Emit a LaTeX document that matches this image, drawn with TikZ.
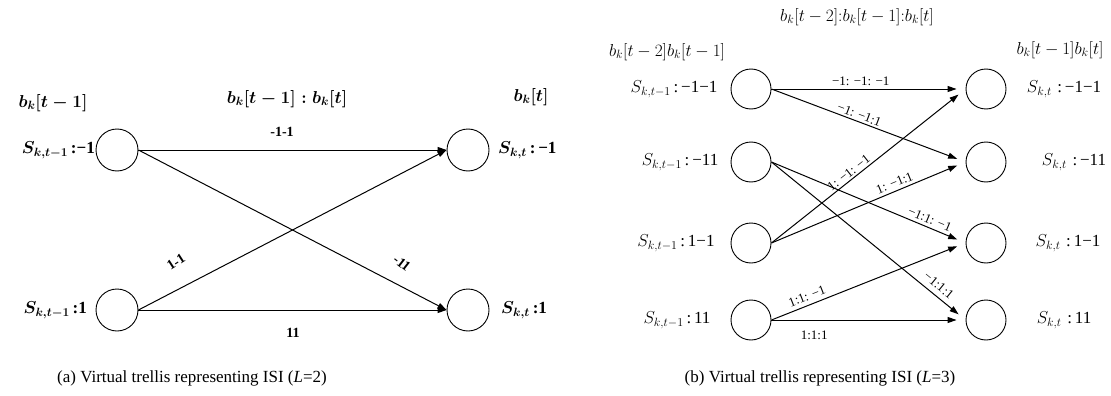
\documentclass[tikz,border=0pt]{standalone}
\usepackage{fontspec}
\setmainfont{Liberation Serif}
\usetikzlibrary{arrows.meta}
\begin{document}
\begin{tikzpicture}[x=1pt,y=-1pt,
  st/.style={circle,draw,line width=0.9pt,minimum size=42pt,inner sep=0pt},
  stb/.style={circle,draw,line width=0.9pt,minimum size=40pt,inner sep=0pt},
  conn/.style={line width=1pt,-{Triangle[length=9pt,width=6pt]}},
  lab/.style={font=\fontsize{17}{17}\selectfont,inner sep=1pt},
  hlab/.style={font=\fontsize{18}{18}\selectfont,inner sep=1pt},
  laba/.style={font=\fontsize{17}{17}\selectfont\bfseries\boldmath,inner sep=1pt},
  elab/.style={font=\fontsize{14}{14}\selectfont\bfseries,inner sep=1pt},
  slab/.style={font=\fontsize{13}{13}\selectfont,inner sep=1pt},
  captext/.style={font=\fontsize{17}{17}\selectfont,inner sep=0pt}]
\useasboundingbox (0,0) rectangle (1111,396);
% ---------- (a) ----------
\node[st] (a1) at (117,150) {};
\node[st] (a2) at (117,310) {};
\node[st] (a3) at (468,150) {};
\node[st] (a4) at (468,310) {};
\node[laba] (ha) at (53,103) {$b_k[t-1]$};
\node[laba] (hb) at (287,99) {$b_k[t-1]:b_k[t]$};
\node[laba] (hc) at (531,97) {$b_k[t]$};
\node[laba,anchor=east] (la1) at (96,150) {$S_{k,t-1}$\,:−1};
\node[laba,anchor=east] (la2) at (88,310) {$S_{k,t-1}$\,:1};
\node[laba,anchor=west] (ra1) at (497,150) {$S_{k,t}$\,:\,−1};
\node[laba,anchor=west] (ra2) at (500,310) {$S_{k,t}$\,:1};
\draw[conn] (a1.east) -- (a3.west);
\draw[conn] (a1.east) -- (a4.west);
\draw[conn] (a2.east) -- (a3.west);
\draw[conn] (a2.east) -- (a4.west);
\node[elab] (e1) at (282,132) {-1-1};
\node[elab] (e2) at (293,333) {11};
\node[elab,rotate=33] (e3) at (176,262) {1-1};
\node[elab,rotate=-38] (e4) at (402,263) {-11};
\node[captext] (capa) at (192,378) {(a) Virtual trellis representing ISI (\textit{L}=2)};
% ---------- (b) ----------
\node[stb] (s1) at (751,89) {};
\node[stb] (s2) at (751,162) {};
\node[stb] (s3) at (751,243) {};
\node[stb] (s4) at (751,320) {};
\node[stb] (r1) at (986,89) {};
\node[stb] (r2) at (986,162) {};
\node[stb] (r3) at (986,243) {};
\node[stb] (r4) at (986,320) {};
\node[hlab] (hd) at (857,17) {$b_k[t-2]{:}b_k[t-1]{:}b_k[t]$};
\node[hlab] (he) at (667,52) {$b_k[t-2]b_k[t-1]$};
\node[hlab] (hf) at (1060,50) {$b_k[t-1]b_k[t]$};
\node[lab] (ls1) at (674,89) {$S_{k,t-1}$\,:\,−1−1};
\node[lab] (ls2) at (680,162) {$S_{k,t-1}$\,:\,−11};
\node[lab] (ls3) at (676,243) {$S_{k,t-1}$\,:\,1−1};
\node[lab] (ls4) at (677,320) {$S_{k,t-1}$\,:\,11};
\node[lab] (rs1) at (1064,89) {$S_{k,t}$\,\,:\,−1−1};
\node[lab] (rs2) at (1074,162) {$S_{k,t}$\,\,:\,−11};
\node[lab] (rs3) at (1068,243) {$S_{k,t}$\,\,:\,1−1};
\node[lab] (rs4) at (1064,320) {$S_{k,t}$\,\,:\,11};
\begin{scope}[every path/.style={conn,shorten >=9pt}]
\draw (s1.east) -- node[slab,above=2pt,pos=0.46] (b1) {−1: −1: −1} (r1.west);
\draw (s1.east) -- node[slab,above=1pt,sloped,pos=0.44] (b2) {−1: −1:1} (r2.west);
\draw (s2.east) -- node[slab,above=2pt,sloped,pos=0.8] (b3) {−1:1: −1} (r3.west);
\draw (s2.east) -- node[slab,above=4pt,sloped,pos=0.83] (b4) {−1:1:1} (r4.west);
\draw (s3.east) -- node[slab,above=1pt,sloped,pos=0.42] (b5) {1: −1: −1} (r1.west);
\draw (s3.east) -- node[slab,above=2pt,sloped,pos=0.65] (b6) {1: −1:1} (r2.west);
\draw (s4.east) -- node[slab,above=3pt,sloped,pos=0.2] (b7) {1:1: −1} (r3.west);
\draw (s4.east) -- node[slab,below=9pt,pos=0.22] (b8) {1:1:1} (r4.west);
\end{scope}
\node[captext] (capb) at (820,378) {(b) Virtual trellis representing ISI (\textit{L}=3)};
\end{tikzpicture}
\end{document}
